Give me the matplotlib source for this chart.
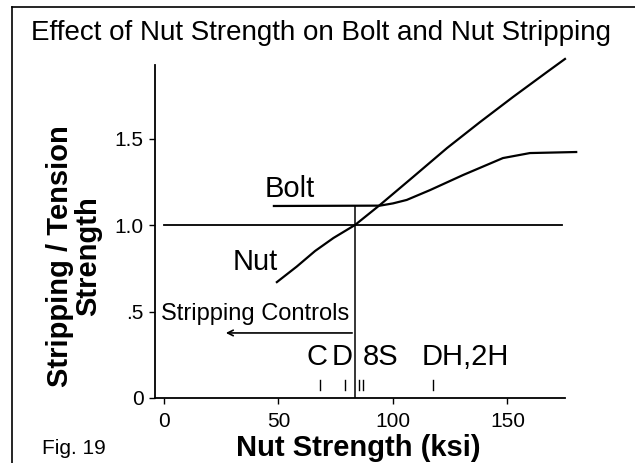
import matplotlib
matplotlib.use("Agg")
import matplotlib.pyplot as plt
from matplotlib.lines import Line2D

plt.rcParams['font.family'] = ['Liberation Sans', 'DejaVu Sans']

# curves (x in ksi, y = stripping / tension strength)
bolt_x = [48, 94.3, 100, 106, 116.2, 130.6, 148, 159.8, 180]
bolt_y = [1.11, 1.112, 1.125, 1.145, 1.202, 1.289, 1.387, 1.416, 1.422]
nut_x = [49.3, 58, 66, 74, 83.4, 94.3, 108.7, 123.6, 138, 152.4, 167.2, 175.1]
nut_y = [0.67, 0.76, 0.85, 0.925, 1.0, 1.116, 1.277, 1.445, 1.595, 1.74, 1.884, 1.96]

ratio_line = 1.0
cross_x = 83.4
arrow_y = 0.376
arrow_end = 25.8

grade_marks = [68, 79, 85, 87, 117.5]
grade_labels = ['C', 'D', '8S', 'DH,2H']
grade_label_x = [67, 78, 87, 112.5]

xticks = [0, 50, 100, 150]
yticks = [0, 0.5, 1.0, 1.5]
ytick_labels = ['0', '.5', '1.0', '1.5']

fig = plt.figure(figsize=(6.35, 4.63), dpi=100)
ax = fig.add_axes([0.2438, 0.1404, 0.6672, 0.736])

ax.plot(bolt_x, bolt_y, color='black', lw=1.6)
ax.plot(nut_x, nut_y, color='black', lw=1.6)
ax.plot([0, 174], [ratio_line, ratio_line], color='black', lw=1.3)
ax.plot([cross_x, cross_x], [0, bolt_y[0]], color='black', lw=1.1)

ax.annotate('', xy=(arrow_end, arrow_y), xytext=(cross_x, arrow_y),
            arrowprops=dict(arrowstyle='->', color='black', lw=1.2))
ax.text(-1.5, 0.485, 'Stripping Controls', fontsize=17, va='center', ha='left')

for m in grade_marks:
    ax.plot([m, m], [0.046, 0.104], color='black', lw=1.0)
for lab, lx in zip(grade_labels, grade_label_x):
    ax.text(lx, 0.237, lab, fontsize=21, ha='center' if len(lab) == 1 else 'left',
            va='center')

ax.text(44, 1.21, 'Bolt', fontsize=21, va='center')
ax.text(30, 0.786, 'Nut', fontsize=21, va='center')

ax.set_xlim(-4, 181)
ax.set_ylim(0, 1.97)
for s in ['top', 'right']:
    ax.spines[s].set_visible(False)
ax.spines['bottom'].set_bounds(-4, 175)
ax.spines['left'].set_bounds(0, 1.925)
ax.spines['left'].set_position(('data', -4))
ax.spines['bottom'].set_linewidth(1.3)
ax.spines['left'].set_linewidth(1.3)

ax.set_xticks(xticks)
ax.set_xticklabels([str(t) for t in xticks])
ax.set_yticks(yticks)
ax.set_yticklabels(ytick_labels)
ax.tick_params(direction='out', length=4, width=1, labelsize=15, pad=4)
ax.tick_params(axis='x', pad=6)

fig.text(0.505, 0.9136, 'Effect of Nut Strength on Bolt and Nut Stripping',
         fontsize=20, ha='center', va='baseline',
         family=['Liberation Sans Narrow', 'Liberation Sans', 'DejaVu Sans'])
fig.text(0.1165, 0.447, 'Stripping / Tension\nStrength', rotation=90,
         fontsize=21, fontweight='bold', ha='center', va='center',
         multialignment='center', linespacing=1.0)
fig.text(0.564, 0.032, 'Nut Strength (ksi)', fontsize=21, fontweight='bold',
         ha='center', va='center')
fig.text(0.066, 0.032, 'Fig. 19', fontsize=15, ha='left', va='center')

# scan frame
fig.add_artist(Line2D([0.019, 0.019], [0.0, 0.985], color='black', lw=1.2))
fig.add_artist(Line2D([0.019, 1.0], [0.985, 0.985], color='black', lw=1.2))

fig.savefig('out.png', dpi=100)
